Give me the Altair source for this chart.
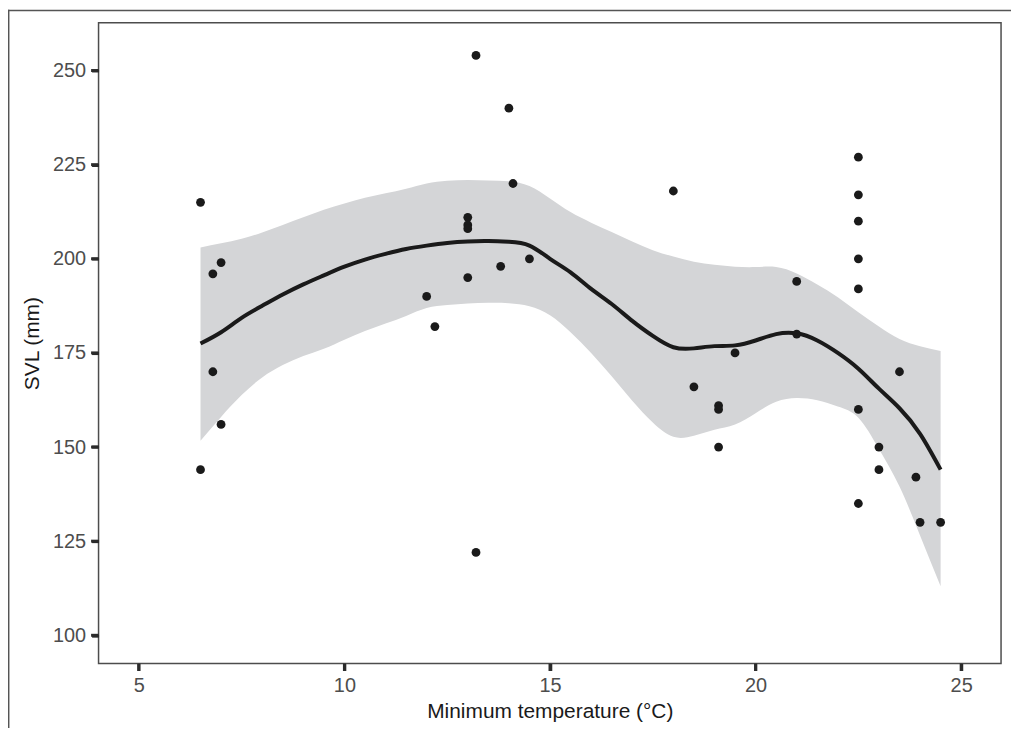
import altair as alt
import pandas as pd

# Observed points
pt_x = [6.5, 6.5, 6.8, 6.8, 7.0, 7.0, 12.0, 12.2, 13.0, 13.0, 13.0, 13.0, 13.2, 13.2,
        13.8, 14.0, 14.1, 14.5, 18.0, 18.5, 19.1, 19.1, 19.1, 19.5, 21.0, 21.0,
        22.5, 22.5, 22.5, 22.5, 22.5, 22.5, 22.5, 23.0, 23.0, 23.5, 23.9, 24.0, 24.5]
pt_y = [215, 144, 196, 170, 199, 156, 190, 182, 211, 209, 208, 195, 254, 122,
        198, 240, 220, 200, 218, 166, 161, 160, 150, 175, 194, 180,
        227, 217, 210, 200, 192, 160, 135, 150, 144, 170, 142, 130, 130]

# Smooth fit and confidence band
fit_x = [6.5, 7.0, 7.5, 8.0, 8.5, 9.0, 9.5, 10.0, 10.5, 11.0, 11.5, 12.0, 12.5, 13.0,
         13.5, 14.0, 14.5, 15.0, 15.5, 16.0, 16.5, 17.0, 17.5, 18.0, 18.5, 19.0,
         19.5, 20.0, 20.5, 21.0, 21.5, 22.0, 22.5, 23.0, 23.5, 24.0, 24.5]
fit_y = [177.5, 180.5, 184.3, 187.5, 190.5, 193.2, 195.6, 197.9, 199.8, 201.3, 202.6,
         203.5, 204.2, 204.6, 204.7, 204.5, 203.5, 200.0, 196.4, 192.0, 188.0, 183.5,
         179.5, 176.5, 176.2, 176.8, 177.0, 178.3, 180.0, 180.2, 178.3, 175.0, 170.8,
         165.5, 160.3, 153.5, 144.0]
fit_hi = [203.0, 204.1, 205.3, 207.0, 209.0, 211.0, 213.0, 214.7, 216.2, 217.4, 218.6,
          220.0, 220.7, 220.9, 220.8, 220.6, 219.3, 216.0, 212.4, 209.6, 207.1, 204.6,
          202.3, 200.6, 199.2, 198.4, 197.9, 197.8, 197.8, 196.1, 193.2, 189.8, 185.8,
          182.0, 178.7, 176.8, 175.5]
fit_lo = [151.7, 158.0, 163.8, 168.5, 171.8, 174.2, 176.1, 178.5, 180.8, 182.8, 184.8,
          186.9, 187.7, 188.1, 188.3, 188.2, 187.4, 185.0, 180.5, 175.0, 168.8, 162.3,
          156.5, 152.7, 153.0, 154.6, 156.0, 159.0, 162.0, 163.0, 162.4, 160.8, 157.8,
          149.5, 139.5, 126.5, 113.0]

x_ticks = [5, 10, 15, 20, 25]
y_ticks = [100, 125, 150, 175, 200, 225, 250]

pts = pd.DataFrame({"x": pt_x, "y": pt_y})
fit = pd.DataFrame({"x": fit_x, "y": fit_y, "lo": fit_lo, "hi": fit_hi})
xt = pd.DataFrame({"x": x_ticks})
yt = pd.DataFrame({"y": y_ticks})

FONT = "Liberation Sans"
W, H = 907, 644
TICK = "#2b2b2b"

xscale = alt.Scale(domain=[4.02, 25.97], nice=False, zero=False)
yscale = alt.Scale(domain=[92.5, 262.7], nice=False, zero=False)

common = dict(grid=False, domain=False, ticks=True, tickSize=7, tickWidth=3,
              tickColor=TICK, tickOpacity=1,
              labelFontSize=20, labelColor="#4d4d4d", labelFont=FONT,
              titleFontSize=21, titleFont=FONT, titleColor="#1a1a1a",
              titleFontWeight="normal")
xaxis = alt.Axis(title="Minimum temperature (\u00b0C)", values=x_ticks,
                 labelPadding=5, titlePadding=5, **common)
yaxis = alt.Axis(title="SVL (mm)", values=y_ticks,
                 labelPadding=6, titlePadding=10, **common)

band = alt.Chart(fit).mark_area(color="#d4d5d7", opacity=1, interpolate="natural").encode(
    x=alt.X("x:Q", scale=xscale, axis=xaxis),
    y=alt.Y("lo:Q", scale=yscale, axis=yaxis),
    y2="hi:Q",
)
line = alt.Chart(fit).mark_line(color="#1a1a1a", strokeWidth=4, interpolate="natural").encode(
    x=alt.X("x:Q", scale=xscale, axis=xaxis),
    y=alt.Y("y:Q", scale=yscale, axis=yaxis),
)
points = alt.Chart(pts).mark_circle(color="#1a1a1a", opacity=1, size=78).encode(
    x=alt.X("x:Q", scale=xscale, axis=xaxis),
    y=alt.Y("y:Q", scale=yscale, axis=yaxis),
)

# axis tick marks drawn through the scales
xtick_marks = alt.Chart(xt).mark_rule(color=TICK, strokeWidth=3).encode(
    x=alt.X("x:Q", scale=xscale, axis=xaxis),
    y=alt.value(H), y2=alt.value(H + 7.5),
)
ytick_marks = alt.Chart(yt).mark_rule(color=TICK, strokeWidth=3).encode(
    y=alt.Y("y:Q", scale=yscale, axis=yaxis),
    x=alt.value(-7.5), x2=alt.value(0),
)

# outer figure frame (left and top edges)
frame_df = pd.DataFrame({"k": [0]})
frame_left = alt.Chart(frame_df).mark_rule(color="#555555", strokeWidth=1.5).encode(
    x=alt.value(-90.3), y=alt.value(-13), y2=alt.value(H + 70)
)
frame_top = alt.Chart(frame_df).mark_rule(color="#555555", strokeWidth=1.5).encode(
    x=alt.value(-91), x2=alt.value(W + 20), y=alt.value(-12.3)
)

chart = alt.layer(band, line, points, xtick_marks, ytick_marks, frame_left, frame_top).properties(
    width=W, height=H,
    autosize=alt.AutoSizeParams(type="none"),
    padding={"left": 91, "top": 13, "right": 10, "bottom": 63},
).configure(
    background="white"
).configure_view(
    stroke="#4d4d4d", strokeWidth=1.5
)

chart.save("out.html", embed_options={"renderer": "svg", "actions": False})
